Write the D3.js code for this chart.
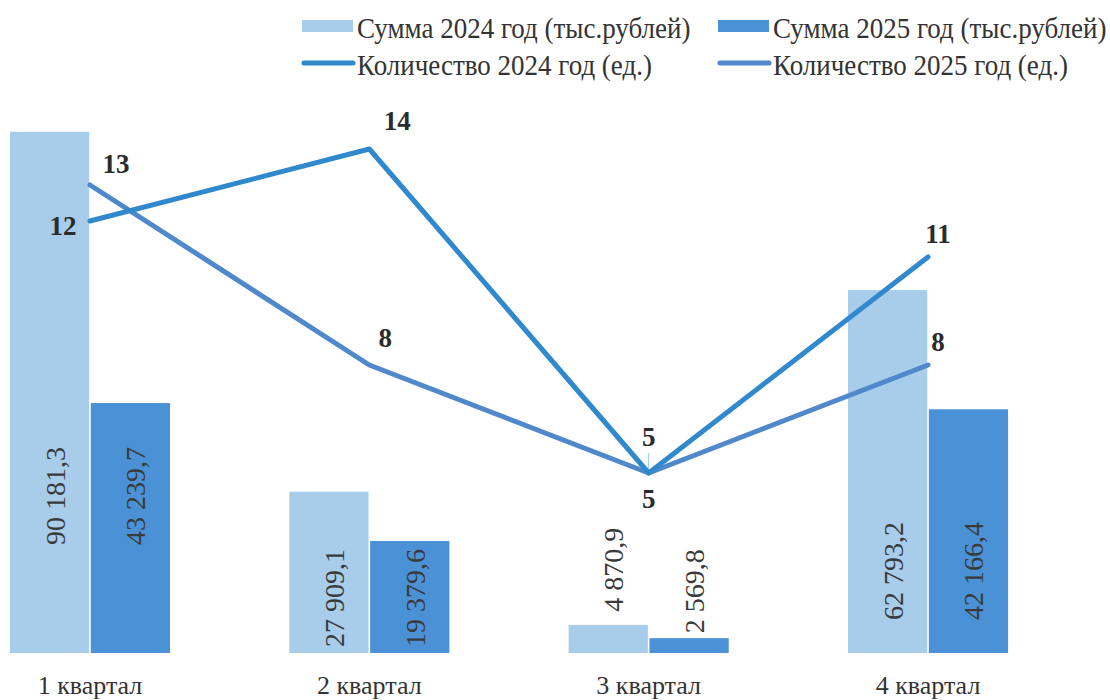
<!DOCTYPE html>
<html>
<head>
<meta charset="utf-8">
<script src="https://cdn.jsdelivr.net/npm/d3@7/dist/d3.min.js"></script>
<style>
  body { margin: 0; background: #fff; }
  text { font-family: "Liberation Serif", "Times New Roman", Tinos, "DejaVu Serif", serif; }
</style>
</head>
<body>
<svg width="1110" height="700"></svg>
<script>
// data
var quarters = ["1 квартал", "2 квартал", "3 квартал", "4 квартал"];
var sum2024 = [90181.3, 27909.1, 4870.9, 62793.2];
var sum2025 = [43239.7, 19379.6, 2569.8, 42166.4];
var count2024 = [12, 14, 5, 11];
var count2025 = [13, 8, 5, 8];
var sumLabels2024 = ["90 181,3", "27 909,1", "4 870,9", "62 793,2"];
var sumLabels2025 = ["43 239,7", "19 379,6", "2 569,8", "42 166,4"];
var legendNames = ["Сумма 2024 год (тыс.рублей)", "Сумма 2025 год (тыс.рублей)",
                   "Количество 2024 год (ед.)", "Количество 2025 год (ед.)"];

var colLight = "#a8cdeb", colDark = "#4b91d5";
var colLine24 = "#2f89cc", colLine25 = "#4f88cb";

var svg = d3.select("svg");
var baseY = 653;

var x = d3.scaleBand().domain(quarters).range([-49.7, 1067.7]).paddingInner(0.427).paddingOuter(0.2135);
var x1 = d3.scaleBand().domain(["a", "b"]).range([0, x.bandwidth()]).paddingInner(0.02);
var yBar = d3.scaleLinear().domain([0, 100000]).range([baseY, 75]);
var yLine = d3.scaleLinear().domain([0, 16]).range([baseY, 77]);

var bars = [];
quarters.forEach(function(q, i) {
  bars.push({q: q, key: "a", v: sum2024[i], label: sumLabels2024[i], color: colLight, i: i});
  bars.push({q: q, key: "b", v: sum2025[i], label: sumLabels2025[i], color: colDark, i: i});
});

svg.append("g").selectAll("rect").data(bars).enter().append("rect")
  .attr("x", function(d) { return x(d.q) + x1(d.key); })
  .attr("width", x1.bandwidth())
  .attr("y", function(d) { return yBar(d.v); })
  .attr("height", function(d) { return baseY - yBar(d.v); })
  .attr("fill", function(d) { return d.color; });

// where the rotated value labels end (distance above the base), per quarter
var labelLift = [108, 6, null, 33];
svg.append("g").selectAll("text").data(bars).enter().append("text")
  .attr("transform", function(d) {
    var cx = x(d.q) + x1(d.key) + x1.bandwidth() / 2 + 15;
    var ey = labelLift[d.i] === null ? yBar(d.v) - (d.key === "a" ? 13 : 5) : baseY - labelLift[d.i];
    return "translate(" + cx + "," + ey + ") rotate(-90)";
  })
  .attr("font-size", 28)
  .attr("fill", "#3a3a3a")
  .text(function(d) { return d.label; });

// lines
var line = d3.line()
  .x(function(d, i) { return x(quarters[i]) + x.bandwidth() / 2; })
  .y(function(d) { return yLine(d); });

svg.append("path").datum(count2025)
  .attr("fill", "none").attr("stroke", colLine25).attr("stroke-width", 5)
  .attr("stroke-linejoin", "round").attr("stroke-linecap", "round")
  .attr("d", line);
svg.append("path").datum(count2024)
  .attr("fill", "none").attr("stroke", colLine24).attr("stroke-width", 5)
  .attr("stroke-linejoin", "round").attr("stroke-linecap", "round")
  .attr("d", line);

// small leader tick above the 5 in 3rd quarter
svg.append("line")
  .attr("x1", x(quarters[2]) + x.bandwidth() / 2).attr("x2", x(quarters[2]) + x.bandwidth() / 2)
  .attr("y1", yLine(count2024[2]) - 20).attr("y2", yLine(count2024[2]) - 4)
  .attr("stroke", "#9cc3e6").attr("stroke-width", 1);

// line labels offsets (dx, dy from point)
var off24 = [[-27, 14], [28, -19], [0, -27], [10, -14]];
var off25 = [[26, -12], [16, -18], [0, 35], [10, -14]];
function lineLabels(vals, offs) {
  svg.append("g").selectAll("text").data(vals).enter().append("text")
    .attr("x", function(d, i) { return x(quarters[i]) + x.bandwidth() / 2 + offs[i][0]; })
    .attr("y", function(d, i) { return yLine(d) + offs[i][1]; })
    .attr("text-anchor", "middle")
    .attr("font-size", 27).attr("font-weight", "bold").attr("fill", "#2b2b2b")
    .text(function(d) { return d; });
}
lineLabels(count2024, off24);
lineLabels(count2025, off25);

// x axis labels
var xAxis = svg.append("g").attr("transform", "translate(0," + baseY + ")")
  .call(d3.axisBottom(x).tickSize(0).tickPadding(23));
xAxis.select(".domain").remove();
xAxis.attr("font-family", null);
xAxis.selectAll("text").attr("font-size", 26).attr("fill", "#333");

// legend
var legendItems = [
  {name: legendNames[0], type: "rect", color: colLight, x: 302, y: 26},
  {name: legendNames[1], type: "rect", color: colDark, x: 718, y: 26},
  {name: legendNames[2], type: "line", color: colLine24, x: 302, y: 63},
  {name: legendNames[3], type: "line", color: colLine25, x: 718, y: 63}
];
var lg = svg.append("g").selectAll("g").data(legendItems).enter().append("g")
  .attr("transform", function(d) { return "translate(" + d.x + "," + d.y + ")"; });
lg.filter(function(d) { return d.type === "rect"; }).append("rect")
  .attr("x", 0).attr("y", -6).attr("width", 51).attr("height", 12)
  .attr("fill", function(d) { return d.color; });
lg.filter(function(d) { return d.type === "line"; }).append("line")
  .attr("x1", 2).attr("x2", 51).attr("y1", 0).attr("y2", 0)
  .attr("stroke", function(d) { return d.color; }).attr("stroke-width", 5)
  .attr("stroke-linecap", "round");
lg.append("text")
  .attr("transform", "translate(55,12) scale(1,1.1)")
  .attr("font-size", 27).attr("fill", "#333")
  .text(function(d) { return d.name; });
</script>
</body>
</html>
